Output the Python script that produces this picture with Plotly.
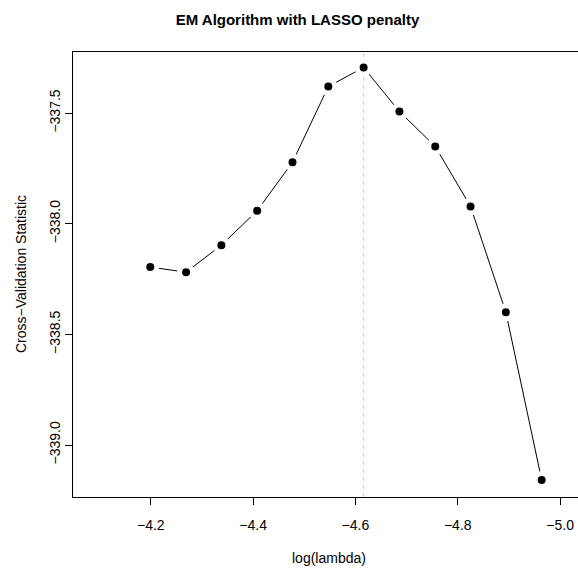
import plotly.graph_objects as go

log_lambda = [-4.199, -4.269, -4.338, -4.408, -4.477, -4.547, -4.616,
              -4.686, -4.756, -4.825, -4.894, -4.964]
cv_stat = [-338.196, -338.219, -338.097, -337.941, -337.722, -337.380,
           -337.294, -337.493, -337.651, -337.922, -338.400, -339.158]
best_lambda = -4.616
x_ticks = [-4.2, -4.4, -4.6, -4.8, -5.0]
y_ticks = [-337.5, -338.0, -338.5, -339.0]

FONT = "Liberation Sans, Arial, Helvetica, sans-serif"

fig = go.Figure()
fig.add_trace(go.Scatter(
    x=log_lambda, y=cv_stat, mode="lines+markers",
    line=dict(color="black", width=1),
    marker=dict(color="black", size=13, line=dict(color="white", width=5)),
    showlegend=False, hoverinfo="x+y",
))

fig.add_shape(type="line", xref="x", yref="paper", x0=best_lambda, x1=best_lambda,
              y0=0, y1=1, line=dict(color="#cfcfcf", width=1, dash="4px,4px"),
              layer="below")

fig.update_layout(
    width=578, height=570,
    margin=dict(l=73, r=0, t=52, b=73),
    paper_bgcolor="white", plot_bgcolor="white",
    font=dict(family=FONT, size=14, color="black"),
    title=dict(text="<b>EM Algorithm with LASSO penalty</b>",
               xref="container", yref="container",
               x=297.5 / 578, y=1 - 19.5 / 570, xanchor="center", yanchor="middle",
               font=dict(size=15, family=FONT, color="black")),
    xaxis=dict(range=[-4.048, -5.035], tickvals=x_ticks, tickformat=".1f",
               showgrid=False, zeroline=False, showline=True, mirror=True,
               linecolor="black", linewidth=1, ticks="outside", ticklen=7,
               tickcolor="black", tickwidth=1, ticklabelstandoff=8),
    yaxis=dict(range=[-339.235, -337.224], tickvals=y_ticks, tickformat=".1f",
               showgrid=False, zeroline=False, showline=True, mirror=True,
               linecolor="black", linewidth=1, ticks="outside", ticklen=7,
               tickcolor="black", tickwidth=1, tickangle=-90, ticklabelstandoff=-1),
    annotations=[
        dict(text="log(lambda)", xref="paper", yref="paper", x=(329 - 73) / 505, y=-61 / 445,
             xanchor="center", yanchor="middle", showarrow=False,
             font=dict(size=14, family=FONT, color="black")),
        dict(text="Cross\u2212Validation Statistic", xref="paper", yref="paper",
             x=(20.5 - 73) / 505, y=0.5, textangle=-90,
             xanchor="center", yanchor="middle", showarrow=False,
             font=dict(size=14, family=FONT, color="black")),
    ],
)

fig.write_html("out.html")
